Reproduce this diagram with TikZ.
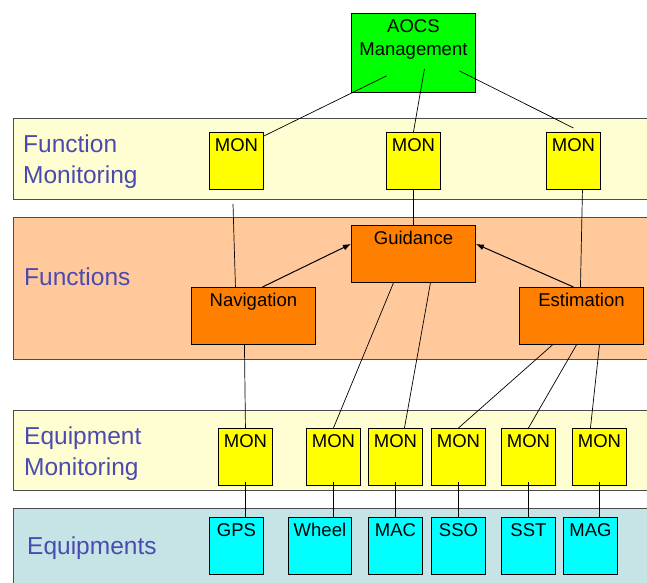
\documentclass[tikz,border=0pt]{standalone}
\usepackage{fontspec}
\setmainfont{Liberation Sans}
\definecolor{bandYellow}{HTML}{FFFDD2}
\definecolor{bandPeach}{HTML}{FFC99C}
\definecolor{bandCyan}{HTML}{C6E4E6}
\definecolor{boxGreen}{HTML}{00FF00}
\definecolor{boxYellow}{HTML}{FFFF00}
\definecolor{boxOrange}{HTML}{FF7F00}
\definecolor{boxCyan}{HTML}{00FFFF}
\definecolor{labelBlue}{HTML}{4B4BAF}
\usetikzlibrary{arrows.meta}

\begin{document}
\begin{tikzpicture}[x=1pt, y=-1pt,
    band/.style={draw=black!70, line width=1pt},
    layer/.style={anchor=north west, inner sep=0pt, align=left, text=labelBlue,
      font=\fontsize{24.5}{30.5}\selectfont},
    box/.style={draw, line width=0.9pt, anchor=north west, inner xsep=0pt,
      inner ysep=6pt, minimum width=#1, text height=13pt, text depth=32pt,
      font=\fontsize{18.5}{23}\selectfont},
    box/.default=54pt,
    link/.style={line width=0.7pt},
    feed/.style={line width=1pt, -{Latex[length=8pt,width=6pt]}}]
  \useasboundingbox (0,0) rectangle (647,582);
  % Layers
  \draw[band, fill=bandYellow] (13,118) rectangle (660,199);
  \draw[band, fill=bandPeach] (13,217) rectangle (660,359);
  \draw[band, fill=bandYellow] (13,410) rectangle (660,490);
  \draw[band, fill=bandCyan] (13,508) rectangle (660,600);
  \node[layer] (lfm) at (23,135) {Function\\Monitoring};
  \node[layer] (lf) at (24,268) {Functions};
  \node[layer] (lem) at (24,427) {Equipment\\Monitoring};
  \node[layer] (le) at (27,537) {Equipments};
  % Management and function monitors
  \node[box=124pt, fill=boxGreen, align=center, text height=36pt, text depth=31pt]
    (aocs) at (351,13) {AOCS\\Management};
  \node[box, fill=boxYellow] (mf1) at (209,132) {MON};
  \node[box, fill=boxYellow] (mf2) at (386,132) {MON};
  \node[box, fill=boxYellow] (mf3) at (546,132) {MON};
  % Functions
  \node[box=124pt, fill=boxOrange] (guid) at (351,225) {Guidance};
  \node[box=124pt, fill=boxOrange] (nav) at (191,287) {Navigation};
  \node[box=124pt, fill=boxOrange] (est) at (519,287) {Estimation};
  % Equipment monitors and equipments
  \foreach \x [count=\i] in {218,306,368,431,501,572}
    \node[box, fill=boxYellow] (me\i) at (\x,428) {MON};
  \foreach \x/\w/\t [count=\i] in {209/54/GPS, 288/63/Wheel, 368/54/MAC,
      431/54/SSO, 501/54/SST, 563/54/MAG}
    \node[box=\w pt, fill=boxCyan] (eq\i) at (\x,517) {\t};
  % Links
  \coordinate (navtop) at (233,204);
  \draw[link] ([xshift=-27pt,yshift=17pt]aocs.south) -- ([yshift=-4pt]mf1.north east);
  \draw[link] ([xshift=11pt,yshift=24pt]aocs.south) -- (mf2.north);
  \draw[link] ([xshift=46pt,yshift=22pt]aocs.south) -- ([yshift=4pt]mf3.north);
  \draw[link] (navtop) -- ([xshift=-18pt]nav.north);
  \draw[link] (mf2.south) -- (guid.north);
  \draw[link] ([xshift=9pt]mf3.south) -- ([xshift=-1pt]est.north);
  \draw[feed] ([xshift=9pt]nav.north) -- ([yshift=10pt]guid.west);
  \draw[feed] ([xshift=-8pt]est.north) -- ([yshift=10pt]guid.east);
  \draw[link] ([xshift=-9pt]nav.south) -- (me1.north);
  \draw[link] ([xshift=-20pt]guid.south) -- (me2.north);
  \draw[link] ([xshift=17pt]guid.south) -- ([xshift=9pt]me3.north);
  \draw[link] ([xshift=-29pt]est.south) -- (me4.north);
  \draw[link] ([xshift=-5pt]est.south) -- (me5.north);
  \draw[link] ([xshift=18pt]est.south) -- ([xshift=-9pt]me6.north);
  \foreach \i in {1,...,6}
    \draw[link] ([yshift=4pt]me\i.south) -- (me\i.south |- eq\i.north);
\end{tikzpicture}
\end{document}
